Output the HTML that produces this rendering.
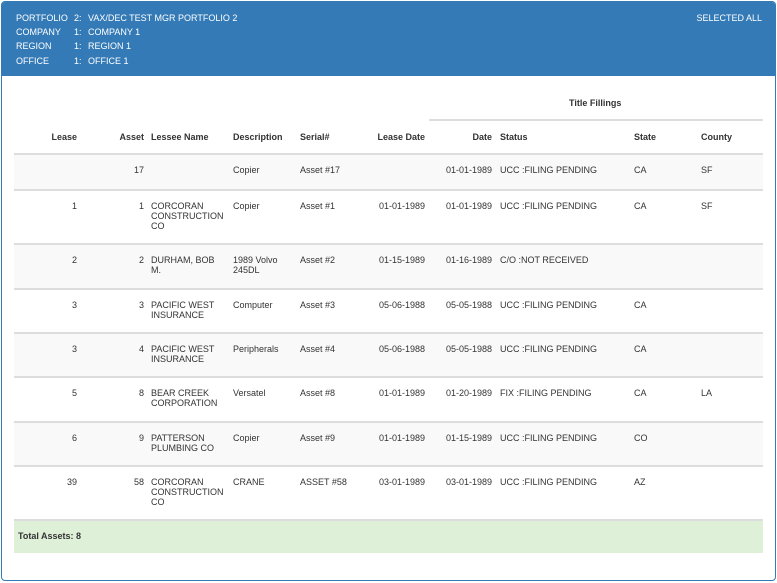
<!DOCTYPE html>
<html><head><meta charset="utf-8"><style>
*{margin:0;padding:0;box-sizing:border-box}
body{width:777px;height:583px;background:#fff;font-family:"Liberation Sans",Arial,sans-serif;font-size:9px;color:#333;position:relative;overflow:hidden}
.panel{position:absolute;left:1px;top:1px;width:775px;height:580px;border:1px solid #337ab7;border-radius:4px;overflow:hidden}
.hdr{position:absolute;left:0;top:0;width:100%;height:74px;background:#337ab7;color:#fff}
.hdr div{position:absolute;white-space:nowrap}
.t{position:absolute;white-space:nowrap;line-height:10px}
.r{text-align:right}
.b{font-weight:bold}
.row{position:absolute;left:14px;width:749px;border-top:2px solid #ddd}
.s{background:#f9f9f9}
</style></head><body>
<div class="panel">
<div class="hdr">
<div style="left:14px;top:11px">PORTFOLIO</div><div style="left:72px;top:11px">2:</div><div style="left:86px;top:11px">VAX/DEC TEST MGR PORTFOLIO 2</div>
<div style="left:14px;top:25px">COMPANY</div><div style="left:72px;top:25px">1:</div><div style="left:86px;top:25px">COMPANY 1</div>
<div style="left:14px;top:39px">REGION</div><div style="left:72px;top:39px">1:</div><div style="left:86px;top:39px">REGION 1</div>
<div style="left:14px;top:54px">OFFICE</div><div style="left:72px;top:54px">1:</div><div style="left:86px;top:54px">OFFICE 1</div>
<div style="right:13px;top:11px">SELECTED ALL</div>
</div>
</div>
<div class="t b" style="left:569px;top:98px">Title Fillings</div>
<div style="position:absolute;left:429px;top:119px;width:334px;border-top:2px solid #ddd"></div>
<div id="cols"></div>
<div id="rows"></div>
<div class="row" style="top:519px;height:34px;background:#dff0d8"></div>
<div class="t b" style="left:18px;top:531px">Total Assets: 8</div>
<script>
const cols=[["Lease",77,"r"],["Asset",144,"r"],["Lessee Name",151,""],["Description",233,""],["Serial#",300,""],["Lease Date",425,"r"],["Date",492,"r"],["Status",500,""],["State",634,""],["County",701,""]];
const rows=[
["","17","","Copier","Asset #17","","01-01-1989","UCC :FILING PENDING","CA","SF"],
["1","1","CORCORAN<br>CONSTRUCTION<br>CO","Copier","Asset #1","01-01-1989","01-01-1989","UCC :FILING PENDING","CA","SF"],
["2","2","DURHAM, BOB<br>M.","1989 Volvo<br>245DL","Asset #2","01-15-1989","01-16-1989","C/O :NOT RECEIVED","",""],
["3","3","PACIFIC WEST<br>INSURANCE","Computer","Asset #3","05-06-1988","05-05-1988","UCC :FILING PENDING","CA",""],
["3","4","PACIFIC WEST<br>INSURANCE","Peripherals","Asset #4","05-06-1988","05-05-1988","UCC :FILING PENDING","CA",""],
["5","8","BEAR CREEK<br>CORPORATION","Versatel","Asset #8","01-01-1989","01-20-1989","FIX :FILING PENDING","CA","LA"],
["6","9","PATTERSON<br>PLUMBING CO","Copier","Asset #9","01-01-1989","01-15-1989","UCC :FILING PENDING","CO",""],
["39","58","CORCORAN<br>CONSTRUCTION<br>CO","CRANE","ASSET #58","03-01-1989","03-01-1989","UCC :FILING PENDING","AZ",""]];
const tops=[153,189,243,288,332,376,421,465,519];
function cell(txt,ci,y,bold,name){
 const d=document.createElement('div');
 
 
 d.className='t'+(bold?' b':'')+(cols[ci][2]?' r':'');
 d.innerHTML=txt;
 if(cols[ci][2]){d.style.right=(777-cols[ci][1])+'px';}else{d.style.left=cols[ci][1]+'px';}
 d.style.top=y+'px';
 document.body.appendChild(d);
}
cols.forEach((c,i)=>cell(c[0],i,132,true,'col-header-'+c[0].toLowerCase().replace(/[^a-z]+/g,'-')));
rows.forEach((r,ri)=>{
 const bg=document.createElement('div');
 
 
 bg.className='row'+(ri%2==0?' s':'');
 bg.style.top=tops[ri]+'px';bg.style.height=(tops[ri+1]-tops[ri])+'px';
 document.body.insertBefore(bg,document.getElementById('cols'));
 const y=tops[ri]+12;
 r.forEach((v,ci)=>{if(v)cell(v,ci,y,false,'cell-'+cols[ci][0].toLowerCase().replace(/[^a-z]+/g,'-'));});
});
</script>
</body></html>
